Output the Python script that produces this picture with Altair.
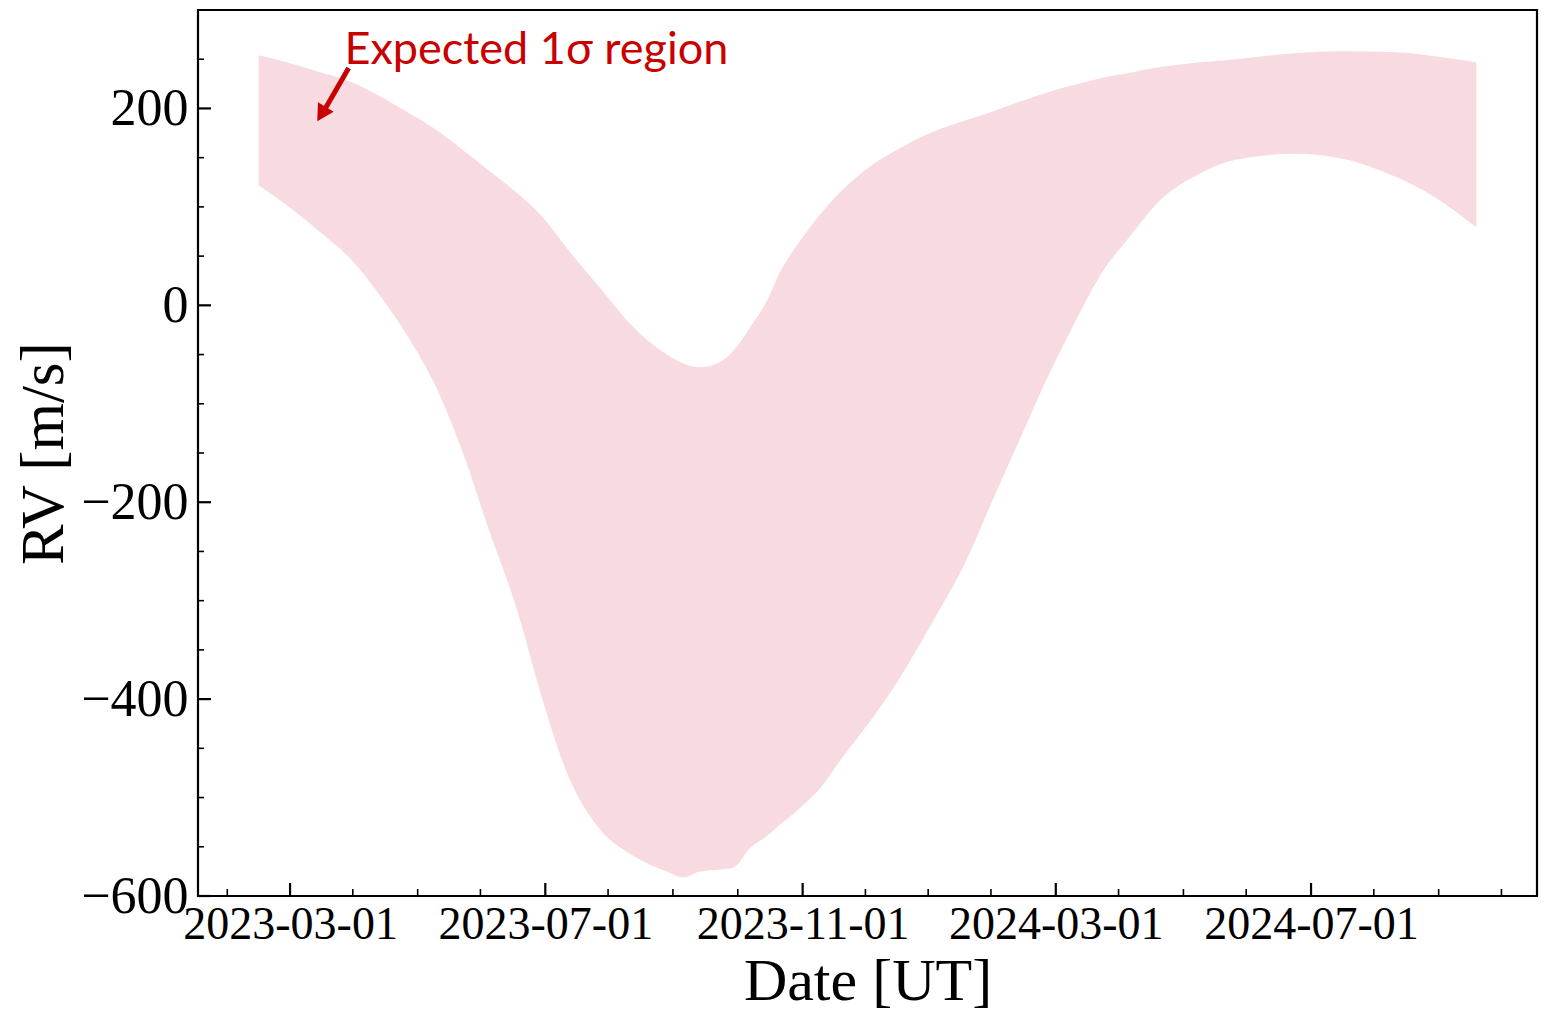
import altair as alt
import pandas as pd

# ---- data ----
dates = ["2023-02-14", "2023-03-01", "2023-03-15", "2023-03-30", "2023-04-14", "2023-04-27",
         "2023-05-10", "2023-05-23", "2023-06-04", "2023-06-17", "2023-06-30", "2023-07-11",
         "2023-07-27", "2023-08-12", "2023-08-28", "2023-09-05", "2023-09-13", "2023-09-23",
         "2023-09-29", "2023-10-07", "2023-10-15", "2023-10-21", "2023-10-31", "2023-11-10",
         "2023-11-19", "2023-12-02", "2023-12-17", "2024-01-02", "2024-01-18", "2024-01-31",
         "2024-02-13", "2024-02-27", "2024-03-10", "2024-03-23", "2024-04-05", "2024-04-20",
         "2024-05-09", "2024-05-21", "2024-06-08", "2024-06-23", "2024-07-16", "2024-08-11",
         "2024-08-29", "2024-09-18"]
upper = [254, 246, 237, 227, 211, 195, 178, 157, 137, 115, 89, 59,
         18, -22, -50, -59, -63, -57, -46, -22, 5, 33, 66, 94,
         115, 139, 159, 176, 188, 197, 207, 217, 224, 231, 236, 242,
         247, 249, 253, 256, 258, 257, 253, 247]
lower = [122, 99, 75, 47, 7, -34, -84, -152, -228, -306, -403, -473,
         -532, -559, -575, -581, -575, -573, -571, -551, -539, -528, -510, -489,
         -462, -426, -380, -322, -260, -197, -135, -69, -18, 33, 69, 107,
         134, 145, 152, 154, 149, 130, 110, 79]

x_major_ticks = ["2023-03-01", "2023-07-01", "2023-11-01", "2024-03-01", "2024-07-01"]
x_minor_ticks = ["2023-01-30", "2023-03-31", "2023-05-01", "2023-05-31", "2023-07-31",
                 "2023-08-31", "2023-10-01", "2023-12-01", "2023-12-31", "2024-01-30",
                 "2024-03-31", "2024-05-01", "2024-05-31", "2024-07-31", "2024-08-31",
                 "2024-09-30"]
y_major_ticks = [-600, -400, -200, 0, 200]
y_minor_ticks = [-550, -500, -450, -350, -300, -250, -150, -100, -50, 50, 100, 150, 250]

annotation_text = ["Expected 1\u03c3 region"]
annotation_date = ["2023-03-27"]
annotation_value = [245]
arrow_tail_date = ["2023-03-29"]
arrow_tail_value = [241]
arrow_shaft_end_date = ["2023-03-16"]
arrow_shaft_end_value = [193]
arrow_tip_date = ["2023-03-14"]
arrow_tip_value = [187]

# ---- tables ----
band = pd.DataFrame({"date": dates, "upper": upper, "lower": lower})
xmaj = pd.DataFrame({"date": x_major_ticks})
xmin = pd.DataFrame({"date": x_minor_ticks})
ymaj = pd.DataFrame({"v": y_major_ticks})
ymin = pd.DataFrame({"v": y_minor_ticks})
ann = pd.DataFrame({"date": annotation_date, "v": annotation_value, "t": annotation_text})
arrow = pd.DataFrame({"d1": arrow_tail_date, "v1": arrow_tail_value,
                      "d2": arrow_shaft_end_date, "v2": arrow_shaft_end_value})
tip = pd.DataFrame({"date": arrow_tip_date, "v": arrow_tip_value})

W, H = 1339, 886
SERIF = "Liberation Serif"
RED = "#c80000"

xscale = alt.Scale(type="utc", domain=[alt.DateTime(year=2023, month=1, date=16, utc=True),
                                       alt.DateTime(year=2024, month=10, date=17, utc=True)])
yscale = alt.Scale(domain=[-600, 300], nice=False, zero=False)

xaxis = alt.Axis(
    title="Date [UT]",
    values=[alt.DateTime(year=int(d[:4]), month=int(d[5:7]), date=int(d[8:10]), utc=True)
            for d in x_major_ticks],
    labelExpr="utcFormat(datum.value, '%Y-%m-%d')",
    labelFont=SERIF, labelFontSize=46, labelColor="black", labelLimit=0,
    labelPadding=6, labelFlush=False, labelOverlap=False, labelBound=False,
    ticks=False, domain=False, grid=False,
    titleFont=SERIF, titleFontSize=60, titleFontWeight="normal", titleColor="black",
    titleBaseline="alphabetic", titleY=103,
)
yaxis = alt.Axis(
    title="RV [m/s]",
    values=y_major_ticks,
    labelFont=SERIF, labelFontSize=52, labelColor="black", labelLimit=0,
    labelPadding=10, labelFlush=False, labelOverlap=False, labelBound=False,
    ticks=False, domain=False, grid=False,
    titleFont=SERIF, titleFontSize=61, titleFontWeight="normal", titleColor="black",
    titleAngle=270, titleBaseline="alphabetic", titleAlign="center",
    titleX=-136, titleY=443,
)

area = alt.Chart(band).mark_area(color="#f8dbe0", opacity=1, interpolate="monotone").encode(
    x=alt.X("date:T", scale=xscale, axis=xaxis),
    y=alt.Y("lower:Q", scale=yscale, axis=yaxis),
    y2="upper:Q",
)

xmaj_r = alt.Chart(xmaj).mark_rule(color="black", strokeWidth=2.2).encode(
    x="date:T", y=alt.value(H), y2=alt.value(H - 13))
xmin_r = alt.Chart(xmin).mark_rule(color="black", strokeWidth=1.6).encode(
    x="date:T", y=alt.value(H), y2=alt.value(H - 7))
ymaj_r = alt.Chart(ymaj).mark_rule(color="black", strokeWidth=2.2).encode(
    y="v:Q", x=alt.value(0), x2=alt.value(13))
ymin_r = alt.Chart(ymin).mark_rule(color="black", strokeWidth=1.6).encode(
    y="v:Q", x=alt.value(0), x2=alt.value(6))

shaft = alt.Chart(arrow).mark_rule(color=RED, strokeWidth=5).encode(
    x="d1:T", y="v1:Q", x2="d2:T", y2="v2:Q")
head = alt.Chart(tip).mark_point(
    shape="M0,0 L0.55,1 L-0.55,1 Z", filled=True, color=RED, opacity=1,
    size=1100, angle=211, strokeWidth=0,
).encode(x="date:T", y="v:Q")

label = alt.Chart(ann).mark_text(
    font="Lato", fontSize=45, color=RED, align="left", baseline="alphabetic",
).encode(x="date:T", y="v:Q", text="t:N")

chart = alt.layer(area, xmin_r, xmaj_r, ymin_r, ymaj_r, shaft, head, label).properties(
    width=W, height=H,
    background="white",
    autosize=alt.AutoSizeParams(type="none"),
    padding={"left": 190, "top": 2, "right": 2, "bottom": 116},
).configure_view(stroke="black", strokeWidth=2.2)

chart.save("out.html", embed_options={"renderer": "svg", "actions": False})
